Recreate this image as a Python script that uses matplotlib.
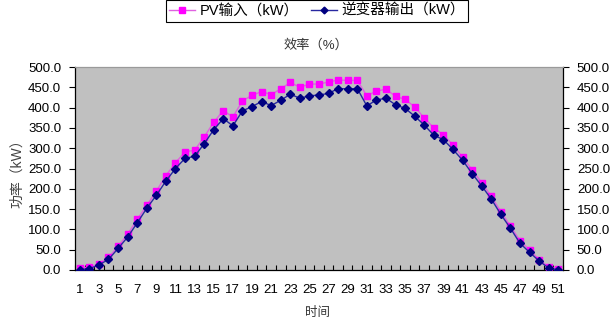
import matplotlib
matplotlib.use("Agg")
import matplotlib.pyplot as plt
from matplotlib.ticker import FixedLocator, FormatStrFormatter

plt.rcParams['font.family'] = ['Liberation Sans', 'Noto Sans CJK SC', 'DejaVu Sans']

time_points = list(range(1, 52))
pv_input = [5, 6.6, 15, 31, 58, 88, 124.5, 159, 194, 232.6,
            264, 291, 295, 327.5, 364, 392.6, 377, 416.6, 430, 439.6,
            432, 446, 462, 450, 458, 458, 463, 468, 467, 467,
            429, 441, 445, 428, 420, 402, 374.5, 350, 333, 308,
            278, 246.5, 215, 181.5, 144, 108, 72.5, 49.5, 25.5, 8, 3]
inv_output = [1, 3.3, 12.4, 26, 53, 81, 116, 152, 184, 219,
              250, 275, 280, 311, 345.5, 373, 355, 392, 402.5, 415,
              405, 418, 433, 423, 429, 431, 435, 447, 446, 447,
              404, 419, 423, 407, 398, 379, 357, 332, 321, 297,
              270.5, 237.6, 207, 175, 137, 103, 66, 43.6, 22.3, 5, 0.5]
x_tick_labels = [str(i) for i in range(1, 52, 2)]
y_ticks = [0, 50, 100, 150, 200, 250, 300, 350, 400, 450, 500]

fig = plt.figure(figsize=(6.13, 3.30), dpi=100)
ax = fig.add_axes([75/613, 1-270/330, (563-75)/613, (270-67)/330])
ax.set_facecolor('#C0C0C0')

l1, = ax.plot(time_points, pv_input, color='#E060E0', lw=1.0, marker='s',
              markersize=4.6, markerfacecolor='#FF00FF', markeredgecolor='#FF00FF',
              label='PV输入（kW）', zorder=3)
l2, = ax.plot(time_points, inv_output, color='#2828A0', lw=1.0, marker='D',
              markersize=4.3, markerfacecolor='#000080', markeredgecolor='#000080',
              label='逆变器输出（kW）', zorder=4)

ax.set_xlim(0.5, 51.5)
ax.set_ylim(0, 500)
ax.xaxis.set_major_locator(FixedLocator(list(range(1, 52, 2))))
ax.set_xticklabels(x_tick_labels, fontsize=9.5)
ax.xaxis.set_minor_locator(FixedLocator([i + 0.5 for i in range(0, 52)]))
ax.tick_params(axis='x', which='major', length=0, pad=10)
ax.tick_params(axis='x', which='minor', direction='in', length=3.5, width=0.8, color='black')

ax.set_yticks(y_ticks)
ax.yaxis.set_major_formatter(FormatStrFormatter('%.1f'))
ax.tick_params(axis='y', which='major', direction='out', length=4, width=0.8,
               labelsize=9.5, left=True, right=True, labelleft=True, labelright=True, pad=6)

for s in ['left', 'bottom', 'right']:
    ax.spines[s].set_color('black')
    ax.spines[s].set_linewidth(0.9)
ax.spines['top'].set_color('#9a9a9a')
ax.spines['top'].set_linewidth(0.9)

fig.text(316/613, 1-45/330, '效率（%）', ha='center', va='center', fontsize=9.5, color='#333333')
fig.text(17/613, 1-170/330, '功率（kW）', ha='center', va='center', rotation=90, fontsize=10, color='#444444')
fig.text(318/613, 1-313/330, '时间', ha='center', va='center', fontsize=9, color='#333333')

leg = fig.legend(handles=[l1, l2], loc='center', bbox_to_anchor=(317/613, 1-11/330),
                 ncol=2, fontsize=10.5, frameon=True, fancybox=False,
                 edgecolor='black', framealpha=1, handlelength=1.8,
                 columnspacing=0.8, handletextpad=0.3, borderpad=0.25, markerscale=0.8)
leg.get_frame().set_linewidth(0.8)

fig.savefig('out.png', dpi=100)
